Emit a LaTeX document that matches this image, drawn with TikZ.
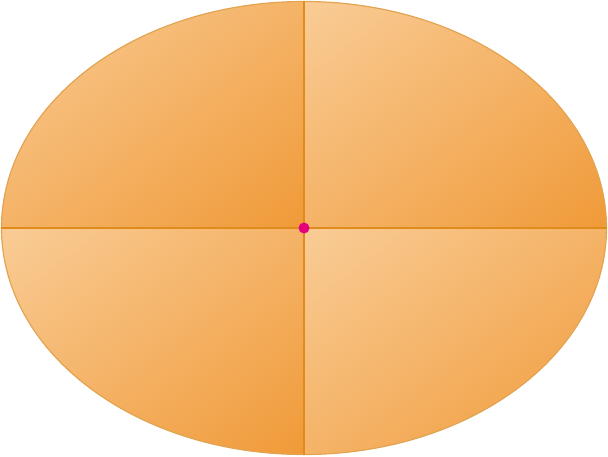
\documentclass[tikz,border=0pt]{standalone}
\usetikzlibrary{shapes.geometric,shadings}
\definecolor{lightO}{HTML}{F9CC96}
\definecolor{darkO}{HTML}{F09A38}
\definecolor{rimO}{HTML}{E3A452}
\definecolor{axisO}{HTML}{E08C1C}
\definecolor{dotM}{HTML}{E5007D}
\colorlet{midO}{lightO!50!darkO}
\tikzset{
  quad/.style={upper left=lightO, lower right=darkO, upper right=midO, lower left=midO},
  rim/.style={draw=rimO, line width=1.2pt, ellipse, inner sep=0pt, minimum width=605pt, minimum height=453pt},
  axis/.style={draw=axisO, line width=1.5pt},
  dot/.style={circle, fill=dotM, inner sep=0pt, minimum size=11pt}
}
\begin{document}
\begin{tikzpicture}[x=1pt,y=1pt]
\useasboundingbox (0,0) rectangle (608,456);
\begin{scope}
  \clip (304,228) ellipse [x radius=302.5, y radius=226.5];
  \foreach \qx/\qy in {0/228,304/228,0/0,304/0}
    \shade[quad] (\qx,\qy) rectangle ++(304,228);
\end{scope}
\node[rim] (e) at (304,228) {};
\draw[axis] (e.north) -- (e.south);
\draw[axis] (e.west) -- (e.east);
\node[dot] (c) at (e.center) {};
\end{tikzpicture}
\end{document}
